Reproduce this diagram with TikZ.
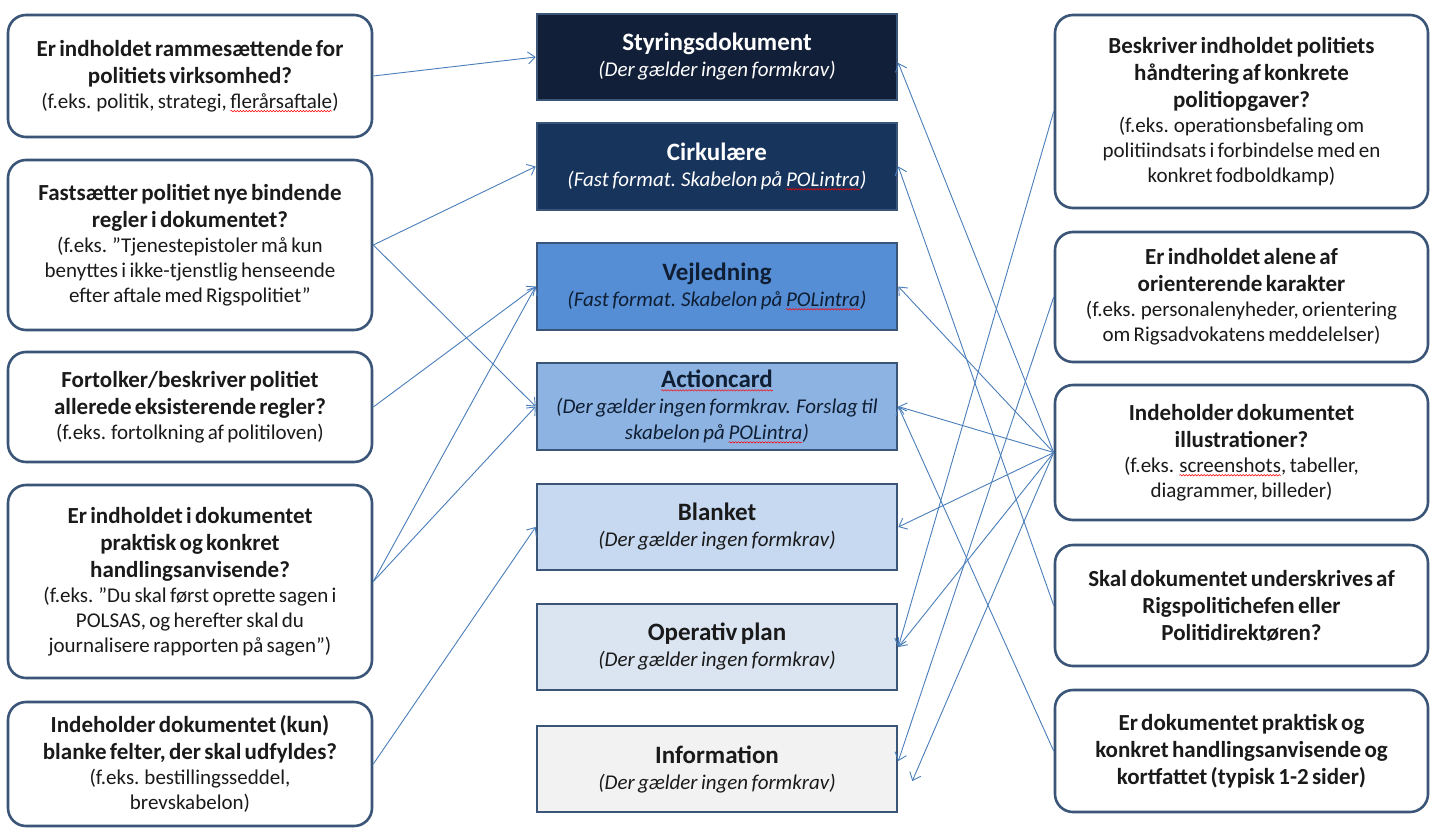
\documentclass[tikz,border=0pt]{standalone}
\usepackage{fontspec}
\setmainfont{Carlito}
\usetikzlibrary{arrows.meta,calc,decorations.pathmorphing}
\definecolor{bordc}{HTML}{3A5577}
\definecolor{linec}{HTML}{4A7EBB}
\definecolor{cA}{HTML}{121F38}
\definecolor{cB}{HTML}{17345C}
\definecolor{cC}{HTML}{558ED5}
\definecolor{cD}{HTML}{8DB3E2}
\definecolor{cE}{HTML}{C6D9F1}
\definecolor{cF}{HTML}{DBE5F1}
\definecolor{cG}{HTML}{F2F2F2}
\definecolor{ctxt}{HTML}{0F1E33}
\definecolor{btxt}{HTML}{1A1A1A}
\newcommand\qt[1]{{\fontsize{23}{27}\selectfont\bfseries #1\par}}
\newcommand\qb[1]{{\fontsize{21}{25}\selectfont #1\par}}
\newcommand\ct[1]{{\fontsize{25}{28}\selectfont\bfseries #1\par}}
\newcommand\cb[1]{{\fontsize{21}{26}\selectfont\itshape #1\par}}
\newcommand\sq[1]{\tikz[baseline=(sqn.base),sharp corners]{\node[draw=none,fill=none,inner sep=0pt,outer sep=0pt,minimum width=0pt,minimum height=0pt,text width={},align=none,sharp corners,anchor=base] (sqn) {#1};\draw[draw=red,line width=0.5pt,sharp corners,decorate,decoration={snake,amplitude=0.7pt,segment length=3pt}] ([yshift=-3pt]sqn.base west) -- ([yshift=-3pt]sqn.base east);}}
\begin{document}
\begin{tikzpicture}[x=1pt,y=-1pt,
  side/.style={draw=bordc,line width=2.6pt,rounded corners=18pt,fill=white,align=center,inner sep=0pt,text width=356pt,text=btxt},
  doc/.style={draw=bordc,line width=2.6pt,align=center,inner sep=0pt,text width=356pt,minimum width=360pt},
  link/.style={draw=linec,line width=0.9pt,-{Straight Barb[length=7pt,width=12pt]}}]
\useasboundingbox (0,0) rectangle (1437,830);
\fill[white] (0,0) rectangle (1437,830);
% left questions
\node[side,minimum width=364pt,minimum height=122pt] (L1) at (190,76) {\qt{Er indholdet rammesættende for\\politiets virksomhed?}\qb{(f.eks. politik, strategi, \sq{flerårsaftale})}};
\node[side,minimum width=364pt,minimum height=170pt] (L2) at (190,245) {\qt{Fastsætter politiet nye bindende\\regler i dokumentet?}\qb{(f.eks. ”Tjenestepistoler må kun\\benyttes i ikke-tjenstlig henseende\\efter aftale med Rigspolitiet”}};
\node[side,minimum width=364pt,minimum height=110pt] (L3) at (190,407) {\qt{Fortolker/beskriver politiet\\allerede eksisterende regler?}\qb{(f.eks. fortolkning af politiloven)}};
\node[side,minimum width=364pt,minimum height=193pt] (L4) at (190,581.5) {\qt{Er indholdet i dokumentet\\praktisk og konkret\\handlingsanvisende?}\qb{(f.eks. ”Du skal først oprette sagen i\\POLSAS, og herefter skal du\\journalisere rapporten på sagen”)}};
\node[side,minimum width=364pt,minimum height=124pt] (L5) at (190,764) {\qt{Indeholder dokumentet (kun)\\blanke felter, der skal udfyldes?}\qb{(f.eks. bestillingsseddel,\\brevskabelon)}};
% document types
\node[doc,fill=cA,text=white,minimum height=86pt] (C1) at (717,57) {\ct{Styringsdokument}\cb{(Der gælder ingen formkrav)}};
\node[doc,fill=cB,text=white,minimum height=87pt] (C2) at (717,166.5) {\ct{Cirkulære}\cb{(Fast format. Skabelon på \sq{POLintra})}};
\node[doc,fill=cC,text=ctxt,minimum height=87pt] (C3) at (717,286.5) {\ct{Vejledning}\cb{(Fast format. Skabelon på \sq{POLintra})}};
\node[doc,fill=cD,text=ctxt,minimum height=87pt] (C4) at (717,406.5) {\ct{\sq{Actioncard}}\cb{(Der gælder ingen formkrav. Forslag til\\skabelon på \sq{POLintra})}};
\node[doc,fill=cE,text=btxt,minimum height=86pt] (C5) at (717,527) {\ct{Blanket}\cb{(Der gælder ingen formkrav)}};
\node[doc,fill=cF,text=btxt,minimum height=86pt] (C6) at (717,647) {\ct{Operativ plan}\cb{(Der gælder ingen formkrav)}};
\node[doc,fill=cG,text=btxt,minimum height=86pt] (C7) at (717,769) {\ct{Information}\cb{(Der gælder ingen formkrav)}};
% right questions
\node[side,text width=368pt,minimum width=373pt,minimum height=193pt] (R1) at (1241.5,111.5) {\qt{Beskriver indholdet politiets\\håndtering af konkrete\\politiopgaver?}\qb{(f.eks. operationsbefaling om\\politiindsats i forbindelse med en\\konkret fodboldkamp)}};
\node[side,text width=368pt,minimum width=373pt,minimum height=130pt] (R2) at (1241.5,297) {\qt{Er indholdet alene af\\orienterende karakter}\qb{(f.eks. personalenyheder, orientering\\om Rigsadvokatens meddelelser)}};
\node[side,text width=368pt,minimum width=373pt,minimum height=135pt] (R3) at (1241.5,452.5) {\qt{Indeholder dokumentet\\illustrationer?}\qb{(f.eks. \sq{screenshots}, tabeller,\\diagrammer, billeder)}};
\node[side,text width=368pt,minimum width=373pt,minimum height=121pt] (R4) at (1241.5,605.5) {\qt{Skal dokumentet underskrives af\\Rigspolitichefen eller\\Politidirektøren?}};
\node[side,text width=368pt,minimum width=373pt,minimum height=122pt] (R5) at (1241.5,751) {\qt{Er dokumentet praktisk og\\konkret handlingsanvisende og\\kortfattet (typisk 1-2 sider)}};
% connectors from the left
\draw[link] (L1.east) -- (C1.west);
\draw[link] (L2.east) -- (C2.west);
\draw[link] (L2.east) -- (C4.west);
\draw[link] (L3.east) -- (C3.west);
\draw[link] (L4.east) -- (C3.west);
\draw[link] (L4.east) -- (C4.west);
\draw[link] (L5.east) -- (C5.west);
% connectors from the right
\draw[link] (R3.west) -- ($(C1.east)+(0,6)$);
\draw[link] (R4.west) -- (C2.east);
\draw[link] (R3.west) -- (C3.east);
\draw[link] (R3.west) -- (C4.east);
\draw[link] (R5.west) -- (C4.east);
\draw[link] (R3.west) -- (C5.east);
\draw[link] (R1.west) -- (C6.east);
\draw[link] (R3.west) -- (C6.east);
\draw[link] (R2.west) -- ($(C7.east)+(0,-8)$);
\draw[link] (R3.west) -- ($(C7.east)+(14,12)$);
\end{tikzpicture}
\end{document}
